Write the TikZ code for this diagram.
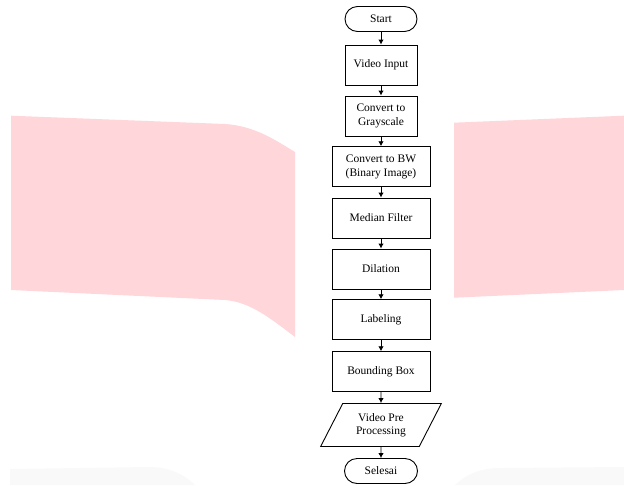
\documentclass[tikz,border=0pt]{standalone}
\usepackage{fontspec}
\setmainfont{Liberation Serif}
\usepackage{tikz}
\usetikzlibrary{arrows.meta,shapes.geometric}
\definecolor{pinkbg}{RGB}{255,214,218}
\definecolor{greybg}{RGB}{249,249,249}

\begin{document}
\begin{tikzpicture}[x=1pt,y=-1pt]
                \tikzset{terminal/.style = {shape=rectangle,draw,rounded corners=12.5pt,minimum width=72pt,minimum height=25pt,line width=0.9pt,font=\fontsize{11.5}{13.5}\selectfont}}
                \tikzset{process/.style = {shape=rectangle,draw,minimum height=40pt,line width=0.9pt,align=center,font=\fontsize{11.5}{13.5}\selectfont}}
                \tikzset{io/.style = {shape=trapezium,draw,trapezium left angle=62,trapezium right angle=118,trapezium stretches=true,minimum width=121pt,minimum height=43pt,line width=0.9pt,align=center,font=\fontsize{11.5}{13.5}\selectfont}}
                \tikzset{edge/.style = {-{Latex[length=5pt,width=5.5pt]},line width=0.9pt}}
                \useasboundingbox (0,0) rectangle (624,485);
                % background
                \fill[pinkbg] (11,115.7) -- (225,124) .. controls (255,126) and (275,140) .. (295,152) -- (295,337) .. controls (270,318) and (250,302) .. (225,300) -- (11,290) -- cycle;
                \fill[pinkbg] (454,122.7) -- (624,115.7) -- (624,290) -- (454,297.7) -- cycle;
                \fill[greybg] (10,469) -- (150,467) .. controls (170,467) and (185,475) .. (195,485) -- (10,485) -- cycle;
                \fill[greybg] (455,485) .. controls (465,475) and (480,468) .. (500,468) -- (624,467) -- (624,485) -- cycle;
                % vertices
                \node[terminal] (start) at (381,19) {Start};
                \node[process, minimum width=72pt] (input) at (381,65) {Video Input};
                \node[process, minimum width=72pt] (gray) at (381,116) {Convert to\\Grayscale};
                \node[process, minimum width=98pt] (bw) at (381,166.7) {Convert to BW\\(Binary Image)};
                \node[process, minimum width=98pt] (median) at (381,218) {Median Filter};
                \node[process, minimum width=98pt] (dilation) at (381,269) {Dilation};
                \node[process, minimum width=98pt] (labeling) at (381,319.7) {Labeling};
                \node[process, minimum width=98pt] (bbox) at (381,371.7) {Bounding Box};
                \node[io] (pre) at (381,425) {Video Pre\\Processing};
                \node[terminal, minimum width=73pt] (end) at (381,471) {Selesai};

                %edges
                \draw[edge] (start) to (input);
                \draw[edge] (input) to (gray);
                \draw[edge] (gray) to (bw);
                \draw[edge] (bw) to (median);
                \draw[edge] (median) to (dilation);
                \draw[edge] (dilation) to (labeling);
                \draw[edge] (labeling) to (bbox);
                \draw[edge] (bbox) to (pre);
                \draw[edge] (pre) to (end);
            \end{tikzpicture}
\end{document}
